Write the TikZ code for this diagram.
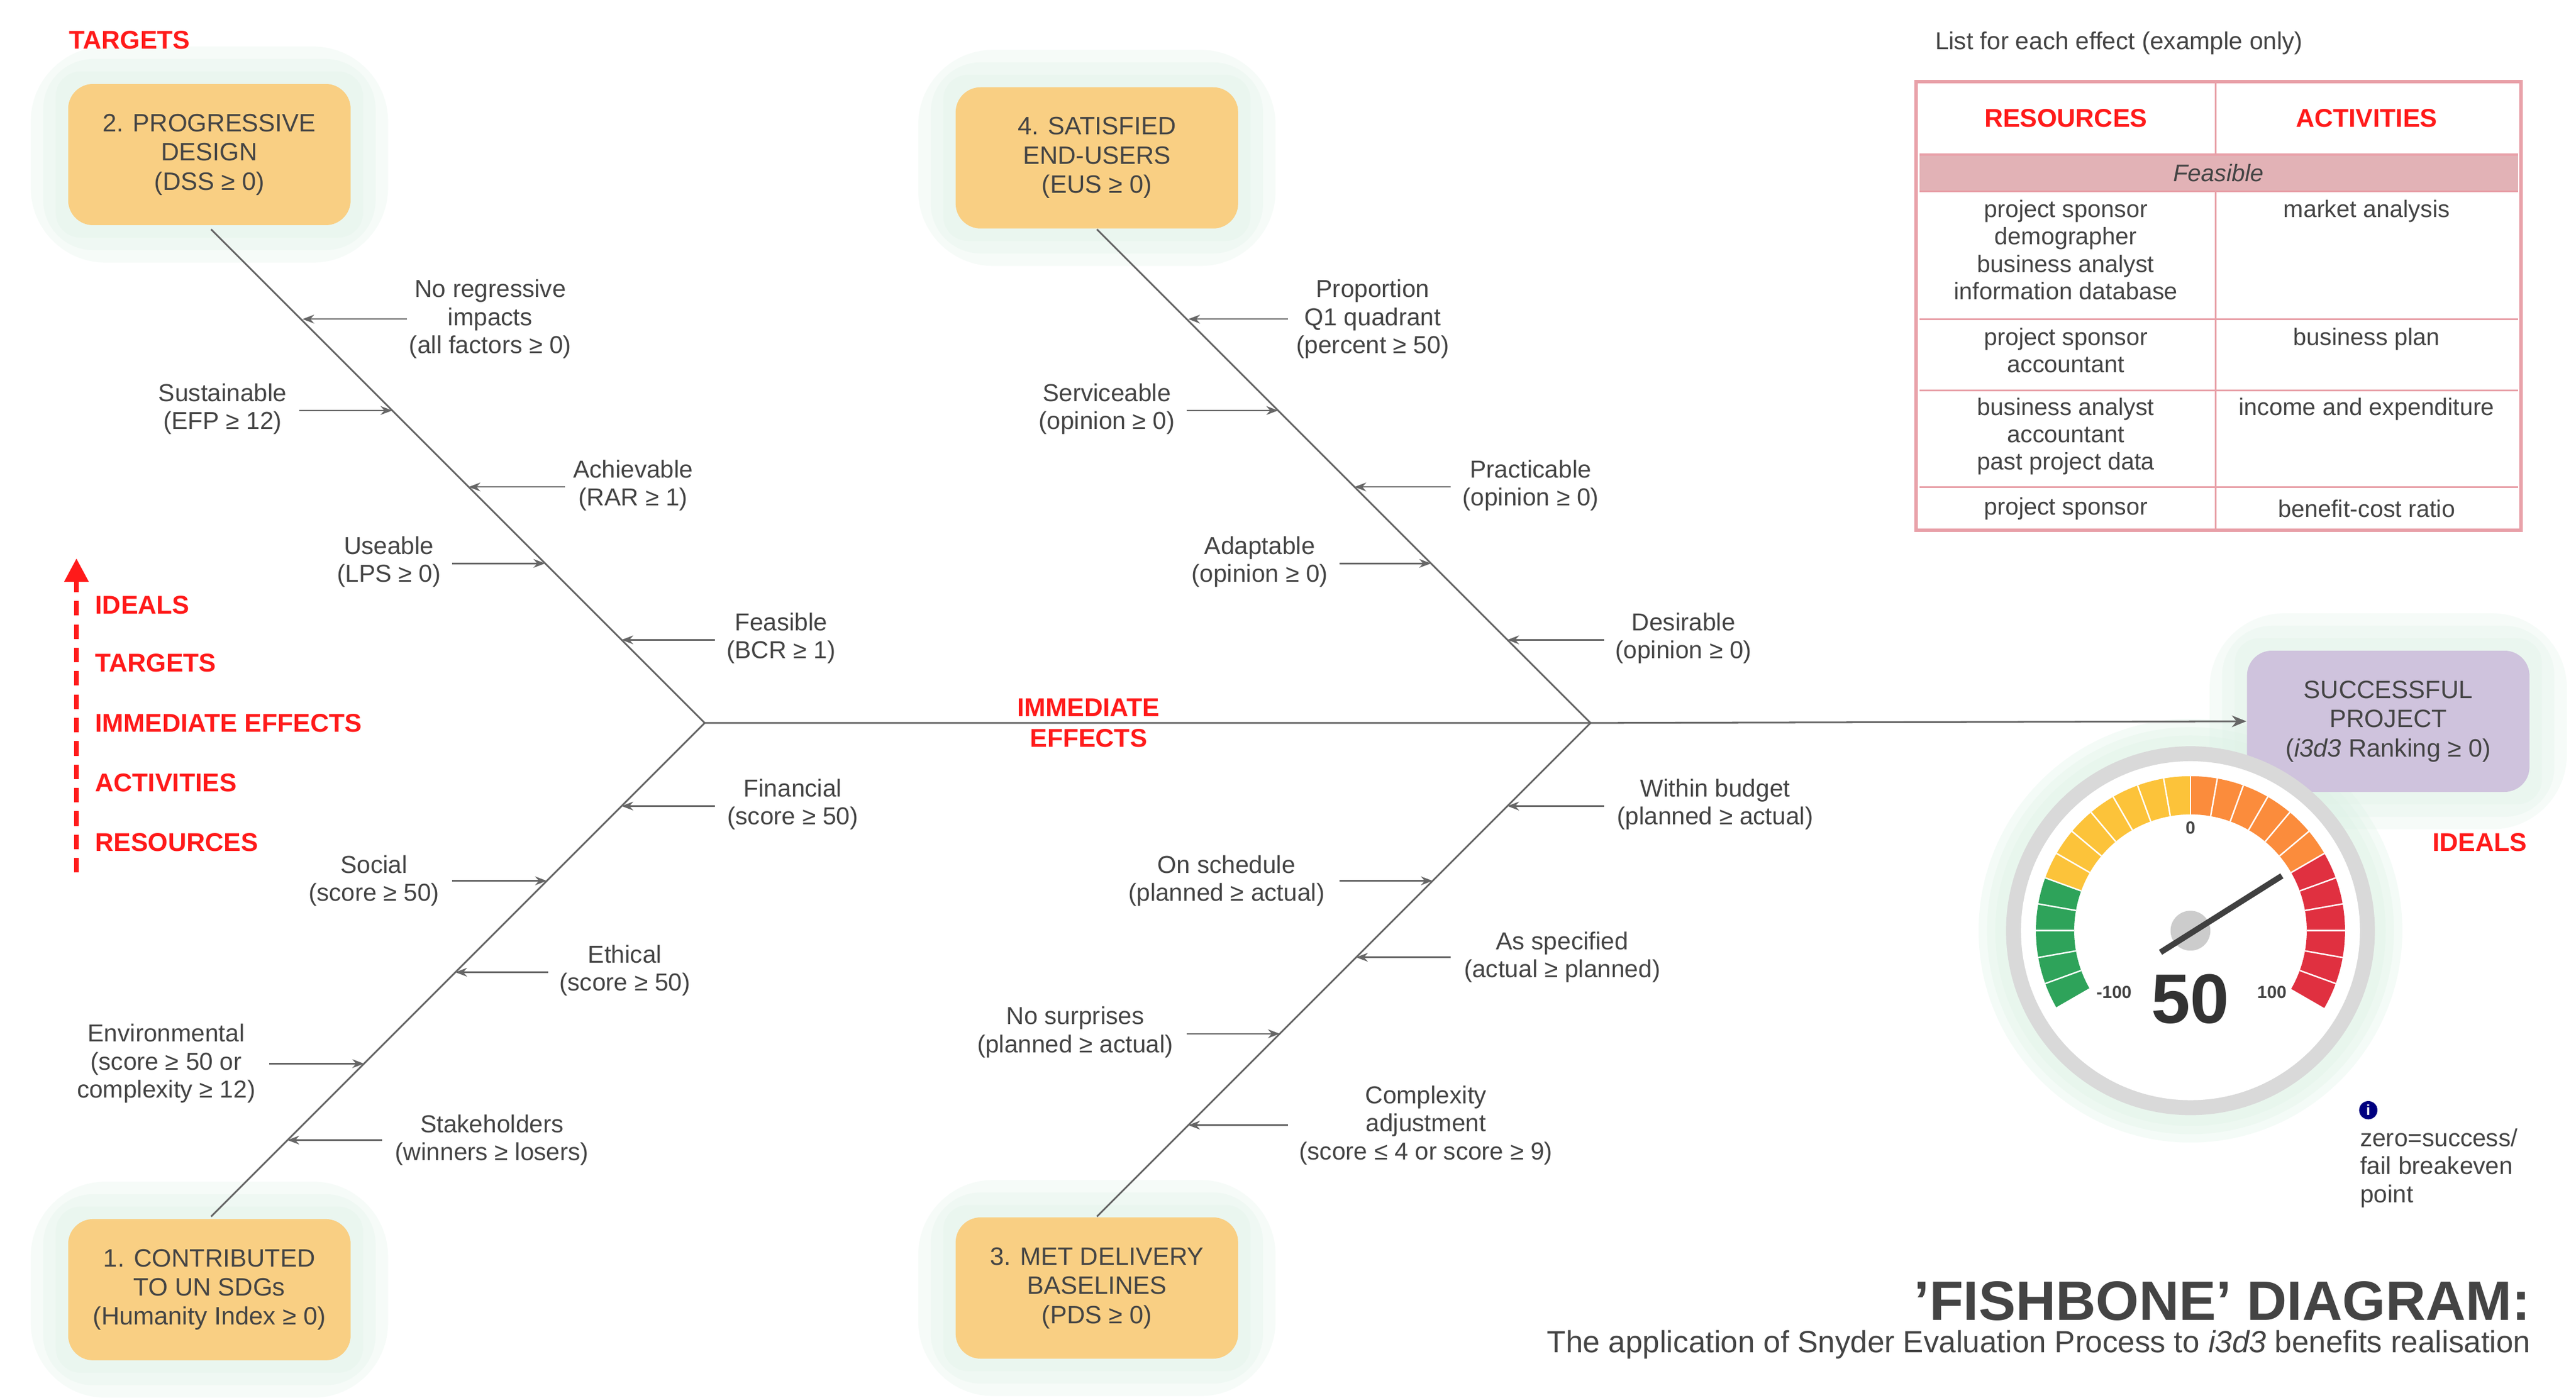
\documentclass[tikz,border=0pt]{standalone}
\usepackage{fontspec}
\setmainfont{Liberation Sans}
\usetikzlibrary{arrows.meta,calc}
\definecolor{txt}{HTML}{444444}
\definecolor{boxo}{HTML}{F9CF83}
\definecolor{boxp}{HTML}{CFC3DD}
\definecolor{ln}{HTML}{666666}
\definecolor{rd}{HTML}{FF1A1A}
\definecolor{tb}{HTML}{E8A0A8}
\definecolor{tbf}{HTML}{E2B2B6}
\definecolor{gG}{HTML}{2EA35A}
\definecolor{gY}{HTML}{FCC33A}
\definecolor{gO}{HTML}{FB8C3C}
\definecolor{gR}{HTML}{E03040}
\definecolor{glow}{HTML}{DDF2E6}
\tikzset{
  box/.style={rounded corners=0.3cm,fill=boxo,text=txt,align=center,minimum width=3.4cm,minimum height=1.7cm,font=\fontsize{8.6}{10}\selectfont},
  lab/.style={text=txt,align=center,font=\fontsize{8.4}{9.6}\selectfont,inner sep=1pt},
  bone/.style={draw=ln,line width=0.6pt},
  rib/.style={draw=ln,line width=0.5pt,-{Stealth[length=4pt,width=3pt]}},
  red/.style={text=rd,font=\bfseries\fontsize{8.8}{10.5}\selectfont,inner sep=0pt},
  cell/.style={text=txt,align=center,font=\fontsize{8.2}{9.4}\selectfont,inner sep=0pt},
  glowbox/.style={rounded corners=#1,fill=glow,opacity=0.25,minimum width=3.4cm+#1,minimum height=1.7cm+#1}
}
\begin{document}
\begin{tikzpicture}[x=0.02cm,y=-0.02cm]
\useasboundingbox (0,0) rectangle (1550,841);
\fill[white] (0,0) rectangle (1550,841);
% glows
\foreach \p in {(126,93),(660,95),(126,776),(660,775),(1437,434)}
  \foreach \g in {0.9cm,0.6cm,0.3cm} \node[glowbox=\g] at \p {};
\foreach \r in {2.55cm,2.45cm,2.35cm} \fill[glow,opacity=0.3] (1318,560) circle (\r);
% boxes
\node[box] (b2) at (126,93) {2. PROGRESSIVE\\DESIGN\\(DSS ≥ 0)};
\node[box] (b4) at (660,95) {4. SATISFIED\\END-USERS\\(EUS ≥ 0)};
\node[box] (b1) at (126,776) {1. CONTRIBUTED\\TO UN SDGs\\(Humanity Index ≥ 0)};
\node[box] (b3) at (660,775) {3. MET DELIVERY\\BASELINES\\(PDS ≥ 0)};
\node[box,fill=boxp] (sp) at (1437,434) {SUCCESSFUL\\PROJECT\\(\textit{i3d3} Ranking ≥ 0)};
% spine
\coordinate (J1) at (424,435);
\coordinate (J2) at (957,435);
\coordinate (T2) at (127,138); \coordinate (T1) at (127,732);
\coordinate (T4) at (660,138); \coordinate (T3) at (660,732);
\draw[bone] (T2)--(J1)--(T1);
\draw[bone] (T4)--(J2)--(T3);
\draw[bone,-{Stealth[length=5pt,width=4pt]}] (J1)--(J2)--(sp.west);
\node[red,align=center] at (655,435) {IMMEDIATE\\EFFECTS};
% upper left ribs
\node[lab] (a1) at (295,192) {No regressive\\impacts\\(all factors ≥ 0)};
\coordinate (e1) at (245,192); \coordinate (p1) at (182,192);
\draw[rib] (e1)--(p1);
\node[lab] (a2) at (134,246) {Sustainable\\(EFP ≥ 12)};
\coordinate (e2) at (180,247); \coordinate (p2) at (236,247);
\draw[rib] (e2)--(p2);
\node[lab] (a3) at (381,292) {Achievable\\(RAR ≥ 1)};
\coordinate (e3) at (340,293); \coordinate (p3) at (282,293);
\draw[rib] (e3)--(p3);
\node[lab] (a4) at (234,338) {Useable\\(LPS ≥ 0)};
\coordinate (e4) at (272,339); \coordinate (p4) at (328,339);
\draw[rib] (e4)--(p4);
\node[lab] (a5) at (470,384) {Feasible\\(BCR ≥ 1)};
\coordinate (e5) at (430,385); \coordinate (p5) at (374,385);
\draw[rib] (e5)--(p5);
% lower left ribs
\node[lab] at (477,484) {Financial\\(score ≥ 50)};
\coordinate (e6) at (430,485); \coordinate (p6) at (374,485);
\draw[rib] (e6)--(p6);
\node[lab] at (225,530) {Social\\(score ≥ 50)};
\coordinate (e7) at (272,530); \coordinate (p7) at (329,530);
\draw[rib] (e7)--(p7);
\node[lab] at (376,584) {Ethical\\(score ≥ 50)};
\coordinate (e8) at (330,585); \coordinate (p8) at (274,585);
\draw[rib] (e8)--(p8);
\node[lab] at (100,640) {Environmental\\(score ≥ 50 or\\complexity ≥ 12)};
\coordinate (e9) at (162,640); \coordinate (p9) at (219,640);
\draw[rib] (e9)--(p9);
\node[lab] at (296,686) {Stakeholders\\(winners ≥ losers)};
\coordinate (e10) at (230,686); \coordinate (p10) at (173,686);
\draw[rib] (e10)--(p10);
% upper right ribs
\node[lab] at (826,192) {Proportion\\Q1 quadrant\\(percent ≥ 50)};
\coordinate (e11) at (775,192); \coordinate (p11) at (715,192);
\draw[rib] (e11)--(p11);
\node[lab] at (666,246) {Serviceable\\(opinion ≥ 0)};
\coordinate (e12) at (714,247); \coordinate (p12) at (769,247);
\draw[rib] (e12)--(p12);
\node[lab] at (921,292) {Practicable\\(opinion ≥ 0)};
\coordinate (e13) at (873,293); \coordinate (p13) at (815,293);
\draw[rib] (e13)--(p13);
\node[lab] at (758,338) {Adaptable\\(opinion ≥ 0)};
\coordinate (e14) at (806,339); \coordinate (p14) at (861,339);
\draw[rib] (e14)--(p14);
\node[lab] at (1013,384) {Desirable\\(opinion ≥ 0)};
\coordinate (e15) at (965,385); \coordinate (p15) at (907,385);
\draw[rib] (e15)--(p15);
% lower right ribs
\node[lab] at (1032,484) {Within budget\\(planned ≥ actual)};
\coordinate (e16) at (965,485); \coordinate (p16) at (907,485);
\draw[rib] (e16)--(p16);
\node[lab] at (738,530) {On schedule\\(planned ≥ actual)};
\coordinate (e17) at (806,530); \coordinate (p17) at (862,530);
\draw[rib] (e17)--(p17);
\node[lab] at (940,576) {As specified\\(actual ≥ planned)};
\coordinate (e18) at (873,576); \coordinate (p18) at (816,576);
\draw[rib] (e18)--(p18);
\node[lab] at (647,621) {No surprises\\(planned ≥ actual)};
\coordinate (e19) at (714,622); \coordinate (p19) at (770,622);
\draw[rib] (e19)--(p19);
\node[lab] at (858,677) {Complexity\\adjustment\\(score ≤ 4 or score ≥ 9)};
\coordinate (e20) at (775,677); \coordinate (p20) at (715,677);
\draw[rib] (e20)--(p20);
% legend
\node[red] at (78,24) {TARGETS};
\coordinate (l0) at (46,525); \coordinate (l1) at (46,336);
\draw[rd,line width=1.6pt,dash pattern=on 5pt off 3pt,-{Triangle[length=8pt,width=8pt]}] (l0)--(l1);
\node[red,anchor=west] at (57,364) {IDEALS};
\node[red,anchor=west] at (57,399) {TARGETS};
\node[red,anchor=west] at (57,435) {IMMEDIATE EFFECTS};
\node[red,anchor=west] at (57,471) {ACTIVITIES};
\node[red,anchor=west] at (57,507) {RESOURCES};
\node[red] at (1492,507) {IDEALS};
% table
\node[lab,font=\fontsize{8.4}{10}\selectfont] at (1275,26) {List for each effect (example only)};
\fill[tbf] (1155,93) rectangle (1515,115);
\draw[tb,line width=1.2pt] (1153,49) rectangle (1517,319);
\draw[tb,line width=0.6pt] (1155,93)--(1515,93) (1155,115)--(1515,115) (1155,192)--(1515,192) (1155,235)--(1515,235) (1155,293)--(1515,293);
\draw[tb,line width=0.6pt] (1333,49)--(1333,93) (1333,115)--(1333,319);
\node[red] at (1243,71) {RESOURCES};
\node[red] at (1424,71) {ACTIVITIES};
\node[cell] at (1335,104) {\textit{Feasible}};
\node[cell,anchor=north] at (1243,120) {project sponsor\\demographer\\business analyst\\information database};
\node[cell,anchor=north] at (1424,120) {market analysis};
\node[cell,anchor=north] at (1243,197) {project sponsor\\accountant};
\node[cell,anchor=north] at (1424,197) {business plan};
\node[cell,anchor=north] at (1243,239) {business analyst\\accountant\\past project data};
\node[cell,anchor=north] at (1424,239) {income and expenditure};
\node[cell] at (1243,306) {project sponsor};
\node[cell] at (1424,306) {benefit-cost ratio};
% gauge
\coordinate (gc) at (1318,560);
\fill[black!15] (gc) circle (2.22cm);
\fill[white] (gc) circle (2.04cm);
\foreach \a/\c in {210/gG,200/gG,190/gG,180/gG,170/gG,160/gY,150/gY,140/gY,130/gY,120/gY,110/gY,100/gY,90/gO,80/gO,70/gO,60/gO,50/gO,40/gO,30/gR,20/gR,10/gR,0/gR,-10/gR,-20/gR}{
  \fill[\c] ($(gc)+(\a:1.86cm)$) arc[start angle=\a,end angle=\a-10,radius=1.86cm] -- ($(gc)+(\a-10:1.4cm)$) arc[start angle=\a-10,end angle=\a,radius=1.4cm] -- cycle;
  \draw[white,line width=0.5pt] ($(gc)+(\a:1.4cm)$)--($(gc)+(\a:1.86cm)$);
}
\fill[black!20] (1318,560) circle (0.24cm);
\coordinate (n0) at (1300,573); \coordinate (n1) at (1373,527);
\draw[black!75,line width=2pt] (n0)--(n1);
\node[text=txt,font=\bfseries\fontsize{6}{7}\selectfont] at (1318,498) {0};
\node[text=txt,font=\bfseries\fontsize{6}{7}\selectfont] at (1272,597) {-100};
\node[text=txt,font=\bfseries\fontsize{6}{7}\selectfont] at (1367,597) {100};
\node[text=black!80,font=\bfseries\fontsize{24}{26}\selectfont] at (1318,601) {50};
% info
\fill[blue!50!black] (1425,668) circle (0.11cm);
\node[white,font=\bfseries\fontsize{5}{5}\selectfont,inner sep=0pt] at (1425,668) {i};
\node[lab,align=left,anchor=north west] at (1418,677) {zero=success/\\fail breakeven\\point};
% title
\node[text=txt,anchor=east,font=\bfseries\fontsize{19}{22}\selectfont,inner sep=0pt] at (1523,783) {\char39\relax FISHBONE\char39\relax{} DIAGRAM:};
\node[text=txt,anchor=east,font=\fontsize{10.5}{12}\selectfont,inner sep=0pt] at (1523,809) {The application of Snyder Evaluation Process to \textit{i3d3} benefits realisation};
\end{tikzpicture}
\end{document}
